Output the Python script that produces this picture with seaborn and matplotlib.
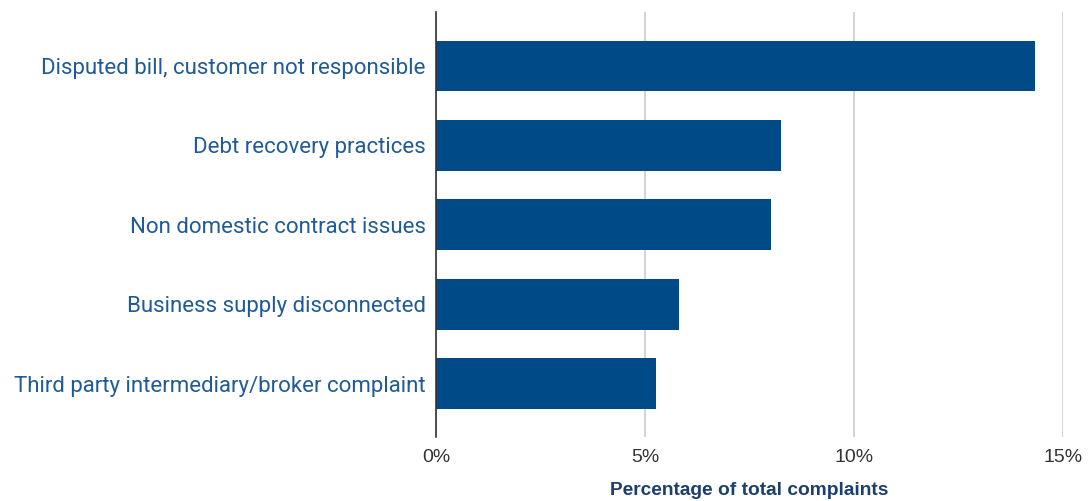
import matplotlib
matplotlib.use("Agg")
import matplotlib.pyplot as plt
import seaborn as sns
import pandas as pd
from matplotlib.ticker import FuncFormatter

categories = [
    "Disputed bill, customer not responsible",
    "Debt recovery practices",
    "Non domestic contract issues",
    "Business supply disconnected",
    "Third party intermediary/broker complaint",
]
values = [14.33, 8.25, 8.01, 5.81, 5.26]
xticks = [0, 5, 10, 15]

sns.set_theme(style="white")
plt.rcParams["font.family"] = ["Roboto", "DejaVu Sans"]

df = pd.DataFrame({"category": categories, "value": values})

fig = plt.figure(figsize=(10.89, 5.01), dpi=100)
ax = fig.add_axes([436 / 1089, 1 - 437 / 501, (1063 - 436) / 1089, (437 - 12) / 501])

sns.barplot(data=df, y="category", x="value", color="#004b87", saturation=1,
            width=0.64, ax=ax, orient="h", linewidth=0)

ax.set_xlim(0, 15)
ax.set_ylim(4.67, -0.68)
ax.set_xticks(xticks)
ax.xaxis.set_major_formatter(FuncFormatter(lambda v, p: f"{v:.0f}%"))
ax.grid(axis="x", color="#cccccc", linewidth=1.2)
ax.set_axisbelow(True)
for s in ["top", "right", "bottom"]:
    ax.spines[s].set_visible(False)
ax.spines["left"].set_color("#333333")
ax.spines["left"].set_linewidth(1.2)
ax.spines["left"].set_zorder(5)
ax.tick_params(axis="y", length=0, pad=7.5, labelsize=16, labelcolor="#215b97")
ax.tick_params(axis="x", length=0, pad=8.5, labelsize=14, labelcolor="#333333")
for lbl in ax.get_xticklabels():
    lbl.set_fontfamily(["Liberation Sans", "DejaVu Sans"])
ax.set_ylabel("")
ax.set_xlabel("Percentage of total complaints", fontsize=13.8, fontweight="bold",
              color="#1c3f6e", labelpad=11.5, family=["Liberation Sans", "DejaVu Sans"])

fig.savefig("out.png", dpi=100)
